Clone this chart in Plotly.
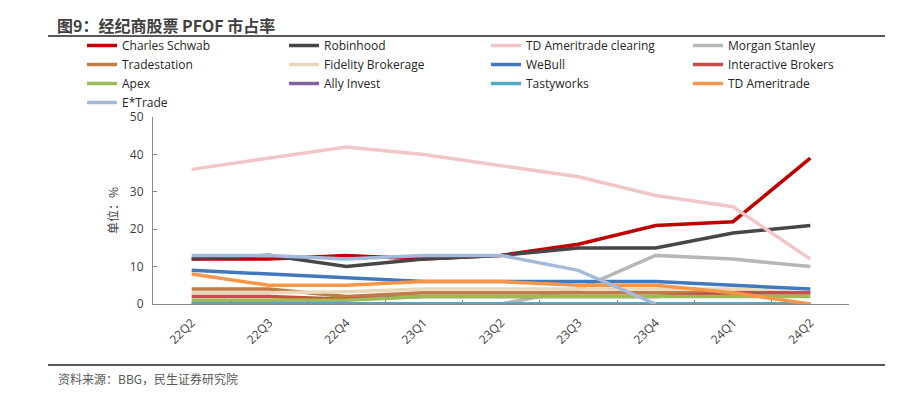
import plotly.graph_objects as go

quarters = ["22Q2", "22Q3", "22Q4", "23Q1", "23Q2", "23Q3", "23Q4", "24Q1", "24Q2"]

charles_schwab = [12, 12, 13, 12, 13, 16, 21, 22, 39]
robinhood = [12, 13, 10, 12, 13, 15, 15, 19, 21]
td_clearing = [36, 39, 42, 40, 37, 34, 29, 26, 12]
morgan_stanley = [0, 0, 0, 0, 0, 4, 13, 12, 10]
tradestation = [4, 4, 2, 3, 3, 3, 3, 3, 3]
fidelity = [3, 3, 3.3, 4, 4, 4, 4, 4, 3]
webull = [9, 8, 7, 6, 6, 6, 6, 5, 4]
interactive = [2, 2, 1.3, 2, 2, 2, 2, 3, 3]
apex = [1, 1, 1, 2, 2, 2, 2, 2, 2]
ally = [0, 0, 0, 0, 0, 0, 0, 0, 0]
tastyworks = [0, 0, 0, 0, 0, 0, 0, 0, 0]
td_ameritrade = [8, 5, 5, 6, 6, 5, 5, 3, 0]
etrade = [13, 13, 12, 13, 13, 9, 0, None, None]

series = [
    ("Charles Schwab", charles_schwab, "#C00000"),
    ("Robinhood", robinhood, "#474747"),
    ("TD Ameritrade clearing", td_clearing, "#F0C6C6"),
    ("Morgan Stanley", morgan_stanley, "#B7B7B7"),
    ("Tradestation", tradestation, "#C07B47"),
    ("Fidelity Brokerage", fidelity, "#E8D8B8"),
    ("WeBull", webull, "#4279BD"),
    ("Interactive Brokers", interactive, "#C4504D"),
    ("Apex", apex, "#9BBB59"),
    ("Ally Invest", ally, "#8064A2"),
    ("Tastyworks", tastyworks, "#4BACC6"),
    ("TD Ameritrade", td_ameritrade, "#F79646"),
    ("E*Trade", etrade, "#A5B9DA"),
]

FONT = "Open Sans, Noto Sans CJK SC, sans-serif"
CJK = "Noto Sans CJK SC, sans-serif"

L, R, T, B = 153, 57, 117, 93
PW, PH = 906 - L - R, 397 - T - B


def px_x(x):
    return (x - L) / PW


def px_y(y):
    return (397 - B - y) / PH


fig = go.Figure()
for name, vals, color in series:
    fig.add_trace(go.Scatter(
        x=quarters, y=vals, name=name, mode="lines",
        line=dict(color=color, width=3.5),
        connectgaps=False,
    ))

fig.update_layout(
    width=906, height=397,
    margin=dict(l=L, r=R, t=T, b=B, autoexpand=False),
    paper_bgcolor="white", plot_bgcolor="white",
    font=dict(family=FONT, size=12, color="#404040"),
    showlegend=True,
    legend=dict(
        orientation="h", x=px_x(82), xanchor="left", y=px_y(31), yanchor="top",
        entrywidth=157, entrywidthmode="pixels",
        itemwidth=30, traceorder="normal",
        font=dict(family=FONT, size=12, color="#262626"),
        bgcolor="rgba(0,0,0,0)",
    ),
    xaxis=dict(
        type="category", tickson="boundaries", ticks="inside", ticklen=4,
        range=[-0.5, len(quarters) - 0.5],
        tickcolor="#898989", showline=True, linecolor="#898989", linewidth=1,
        showgrid=False, tickangle=-45, zeroline=False, ticklabelstandoff=6,
        tickfont=dict(family=FONT, size=12, color="#404040"),
    ),
    yaxis=dict(
        range=[0, 50], dtick=10, ticks="inside", ticklen=4,
        tickcolor="#898989", showline=True, linecolor="#898989", linewidth=1,
        showgrid=False, zeroline=False, ticklabelstandoff=6,
        tickfont=dict(family=FONT, size=12, color="#404040"),
        title=dict(text="单位：%", font=dict(family=CJK, size=12, color="#404040"), standoff=8),
    ),
    shapes=[
        dict(type="line", xref="paper", yref="paper", x0=px_x(48), x1=px_x(885),
             y0=px_y(36), y1=px_y(36), line=dict(color="#595959", width=2)),
        dict(type="line", xref="paper", yref="paper", x0=px_x(48), x1=px_x(885),
             y0=px_y(365), y1=px_y(365), line=dict(color="#595959", width=2)),
    ],
    annotations=[
        dict(text="<b>图9：经纪商股票 PFOF 市占率</b>", xref="paper", yref="paper",
             x=px_x(55), y=px_y(25), xanchor="left", yanchor="middle",
             showarrow=False, font=dict(family=CJK, size=16, color="#404040")),
        dict(text="资料来源：BBG，民生证券研究院", xref="paper", yref="paper",
             x=px_x(56), y=px_y(378), xanchor="left", yanchor="middle",
             showarrow=False, font=dict(family=CJK, size=12, color="#595959")),
    ],
)

fig.write_html("out.html", config={"displayModeBar": False},
               post_script="document.body.style.margin='0';")
